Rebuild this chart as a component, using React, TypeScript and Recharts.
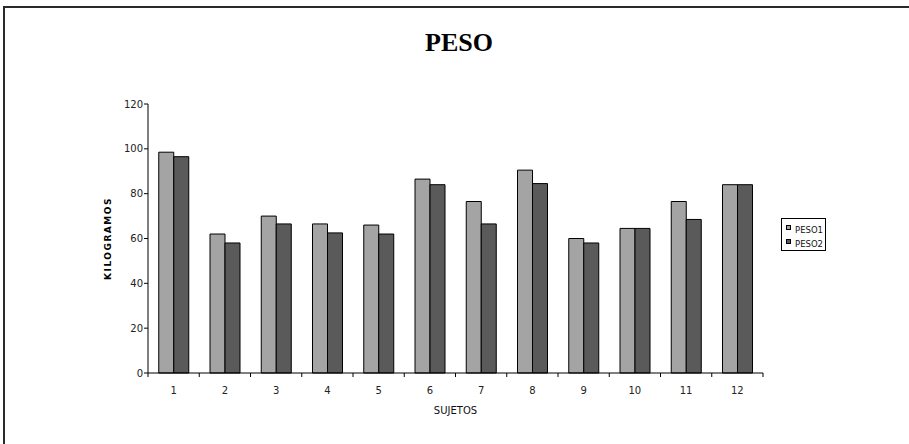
import React from "react";
import { BarChart, Bar, XAxis, YAxis, Legend } from "recharts";

const sujetos = ["1", "2", "3", "4", "5", "6", "7", "8", "9", "10", "11", "12"];
const peso1 = [98.5, 62, 70, 66.5, 66, 86.5, 76.5, 90.5, 60, 64.5, 76.5, 84];
const peso2 = [96.5, 58, 66.5, 62.5, 62, 84, 66.5, 84.5, 58, 64.5, 68.5, 84];
const yTicks = [0, 20, 40, 60, 80, 100, 120];

const W = 909;
const H = 444;
const PLOT_W = 615;
const BAND = PLOT_W / sujetos.length;
const TICK_SIZE = 4;
const TICK_MARGIN = 10;

const LIGHT = "#a4a4a4";
const DARK = "#5a5a5a";
const FONT = "'DejaVu Sans', sans-serif";

const data = sujetos.map((s, i) => ({ sujeto: s, PESO1: peso1[i], PESO2: peso2[i] }));

// x ticks: label in the middle of the band, tick marks on the band edges
function SujetoTick(props: any) {
  const { x, y, payload, index } = props;
  const axisY = y - TICK_SIZE - TICK_MARGIN;
  const left = x - BAND / 2;
  return (
    <g>
      <line x1={left} x2={left} y1={axisY} y2={axisY + TICK_SIZE} stroke="#000" />
      {index === sujetos.length - 1 && (
        <line x1={x + BAND / 2} x2={x + BAND / 2} y1={axisY} y2={axisY + TICK_SIZE} stroke="#000" />
      )}
      <text x={x} y={y} dy="0.71em" textAnchor="middle" fontSize={10} fontFamily={FONT} fill="#222">
        {payload.value}
      </text>
    </g>
  );
}

function LegendBox() {
  const items = [
    { name: "PESO1", color: LIGHT },
    { name: "PESO2", color: DARK },
  ];
  return (
    <div
      style={{
        boxSizing: "border-box",
        width: 45,
        height: 33,
        border: "1px solid #000",
        paddingTop: 4,
        paddingLeft: 4,
        fontFamily: FONT,
        fontSize: 8.5,
        color: "#111",
      }}
    >
      {items.map((it) => (
        <div key={it.name} style={{ display: "flex", alignItems: "flex-start", height: 14, lineHeight: "15px" }}>
          <span
            style={{
              display: "inline-block",
              width: 3,
              height: 3,
              marginTop: 2,
              marginRight: 4,
              background: it.color,
              border: "1px solid #000",
            }}
          />
          <span>{it.name}</span>
        </div>
      ))}
    </div>
  );
}

export default function App() {
  return (
    <div style={{ position: "absolute", left: 0, top: 0, width: W, height: H, background: "#fff", overflow: "hidden" }}>
      <div
        style={{
          position: "absolute",
          left: 3,
          top: 6,
          right: -10,
          bottom: -10,
          borderLeft: "2px solid #2a2a2a",
          borderTop: "2px solid #2a2a2a",
        }}
      />
      <div
        style={{
          position: "absolute",
          left: 409,
          top: 30,
          width: 100,
          textAlign: "center",
          fontFamily: "'Liberation Serif', serif",
          fontWeight: "bold",
          fontSize: 26,
          lineHeight: "26px",
          color: "#000",
        }}
      >
        PESO
      </div>
      <BarChart
        width={W}
        height={H}
        data={data}
        margin={{ top: 104, right: 101, bottom: 41, left: 88 }}
        barCategoryGap="21%"
        barGap={0}
      >
        <XAxis
          dataKey="sujeto"
          height={30}
          axisLine={{ stroke: "#000" }}
          tickLine={false}
          tickSize={TICK_SIZE}
          tickMargin={TICK_MARGIN}
          tick={<SujetoTick />}
          interval={0}
          label={{
            value: "SUJETOS",
            position: "bottom",
            offset: 4,
            style: { fontFamily: FONT, fontSize: 10, fill: "#111" },
          }}
        />
        <YAxis
          width={60}
          domain={[0, 120]}
          ticks={yTicks}
          interval={0}
          axisLine={{ stroke: "#000" }}
          tickLine={{ stroke: "#000" }}
          tickSize={TICK_SIZE}
          tickMargin={1}
          tick={{ fontFamily: FONT, fontSize: 10, fill: "#222" }}
          label={{
            value: "KILOGRAMOS",
            angle: -90,
            position: "insideLeft",
            offset: 20,
            style: { textAnchor: "middle", fontFamily: FONT, fontWeight: "bold", fontSize: 9, letterSpacing: 1.5, fill: "#000" },
          }}
        />
        <Legend
          layout="vertical"
          align="right"
          verticalAlign="middle"
          content={<LegendBox />}
          wrapperStyle={{ position: "absolute", left: 781, top: 218, width: 45, height: 33 }}
        />
        <Bar dataKey="PESO1" fill={LIGHT} stroke="#000" strokeWidth={1} isAnimationActive={false} />
        <Bar dataKey="PESO2" fill={DARK} stroke="#000" strokeWidth={1} isAnimationActive={false} />
      </BarChart>
    </div>
  );
}
